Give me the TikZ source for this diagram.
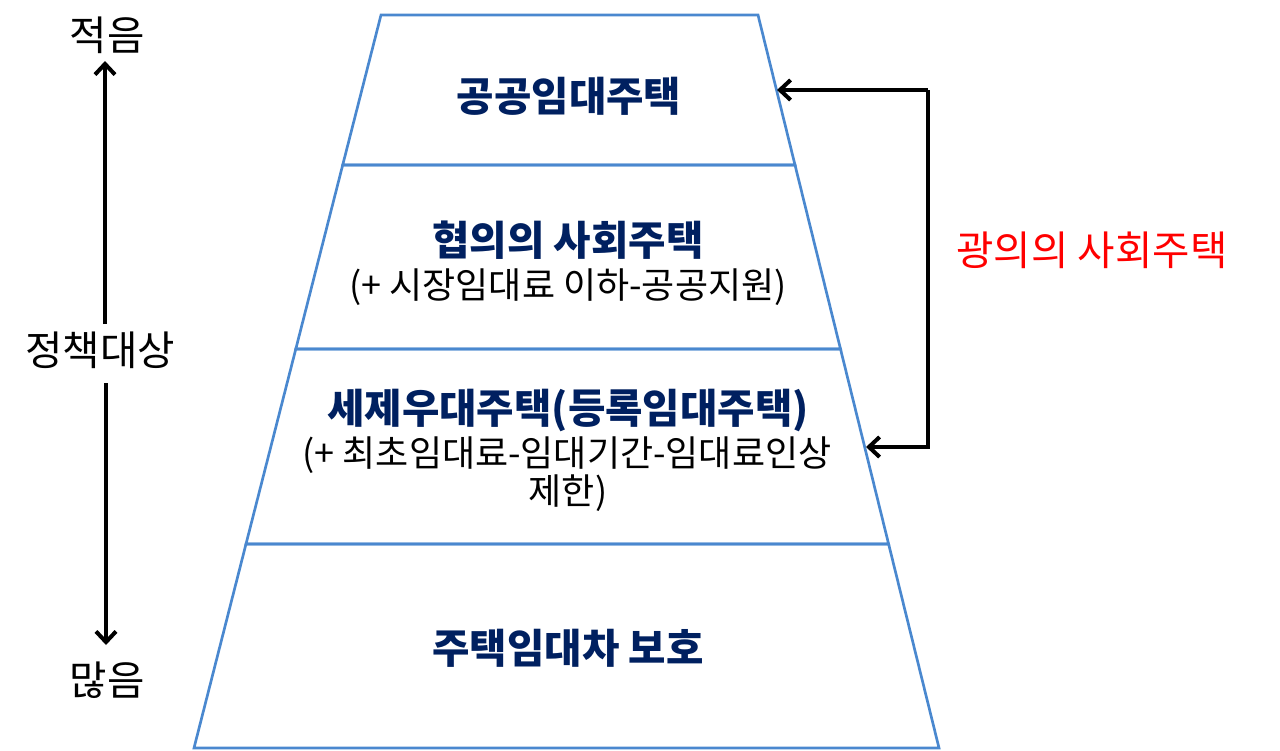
\documentclass[tikz,border=0pt]{standalone}
\usepackage{fontspec}
\setmainfont{Noto Sans CJK KR}
\usetikzlibrary{arrows.meta}
\definecolor{pyr}{HTML}{4A88CF}
\definecolor{navy}{HTML}{002060}
\definecolor{rd}{HTML}{FF0000}
\tikzset{
  layer/.style={draw=pyr, line width=2pt, line join=miter},
  title/.style={font=\fontsize{30.5}{36}\selectfont\bfseries, text=navy, inner sep=0pt},
  sub/.style={font=\fontsize{27}{32}\selectfont, text=black, inner sep=0pt},
  lab/.style={font=\fontsize{30.5}{36}\selectfont, text=black, inner sep=0pt},
  conn/.style={draw=black, line width=3pt, line join=miter},
  tip/.style={-{Straight Barb[length=8pt,width=15pt,line width=3pt]}}
}
\begin{document}
\begin{tikzpicture}[x=0.75pt,y=-0.75pt]
\useasboundingbox (0,0) rectangle (1280,750);
% pyramid layers
\draw[layer] (381,15) -- (758,15) -- (795,165) -- (342.7,165) -- cycle;
\draw[layer] (342.7,165) -- (795,165) -- (840.5,349) -- (295.8,349) -- cycle;
\draw[layer] (295.8,349) -- (840.5,349) -- (888.6,544) -- (246,544) -- cycle;
\draw[layer] (246,544) -- (888.6,544) -- (939,748) -- (194,748) -- cycle;
% texts in layers
\node[title] (t1) at (569,96) {공공임대주택};
\node[title] (t2) at (568,240) {협의의 사회주택};
\node[sub] (s2) at (568,287) {(+ 시장임대료 이하-공공지원)};
\node[title] (t3) at (568,410) {세제우대주택(등록임대주택)};
\node[sub] (s3a) at (567,455) {(+ 최초임대료-임대기간-임대료인상};
\node[sub] (s3b) at (568,493) {제한)};
\node[title] (t4) at (568,648) {주택임대차 보호};
% right side
\node[lab, text=rd] (wide) at (1092,250) {광의의 사회주택};
\coordinate (ta) at (777,90);
\coordinate (ca) at (928,90);
\coordinate (cb) at (928,447);
\coordinate (tb) at (866,447);
\draw[conn, tip] (ca) -- (ta);
\draw[conn, tip] (ca) -- (cb) -- (tb);
% left axis
\node[lab] (few) at (107,35) {적음};
\node[lab] (many) at (107,680) {많음};
\node[lab] (tgt) at (100,350) {정책대상};
\coordinate (up) at (105,61);
\coordinate (dn) at (106,645);
\draw[conn, tip] (105,324) -- (up);
\draw[conn, tip] (106,383) -- (dn);
\end{tikzpicture}
\end{document}
